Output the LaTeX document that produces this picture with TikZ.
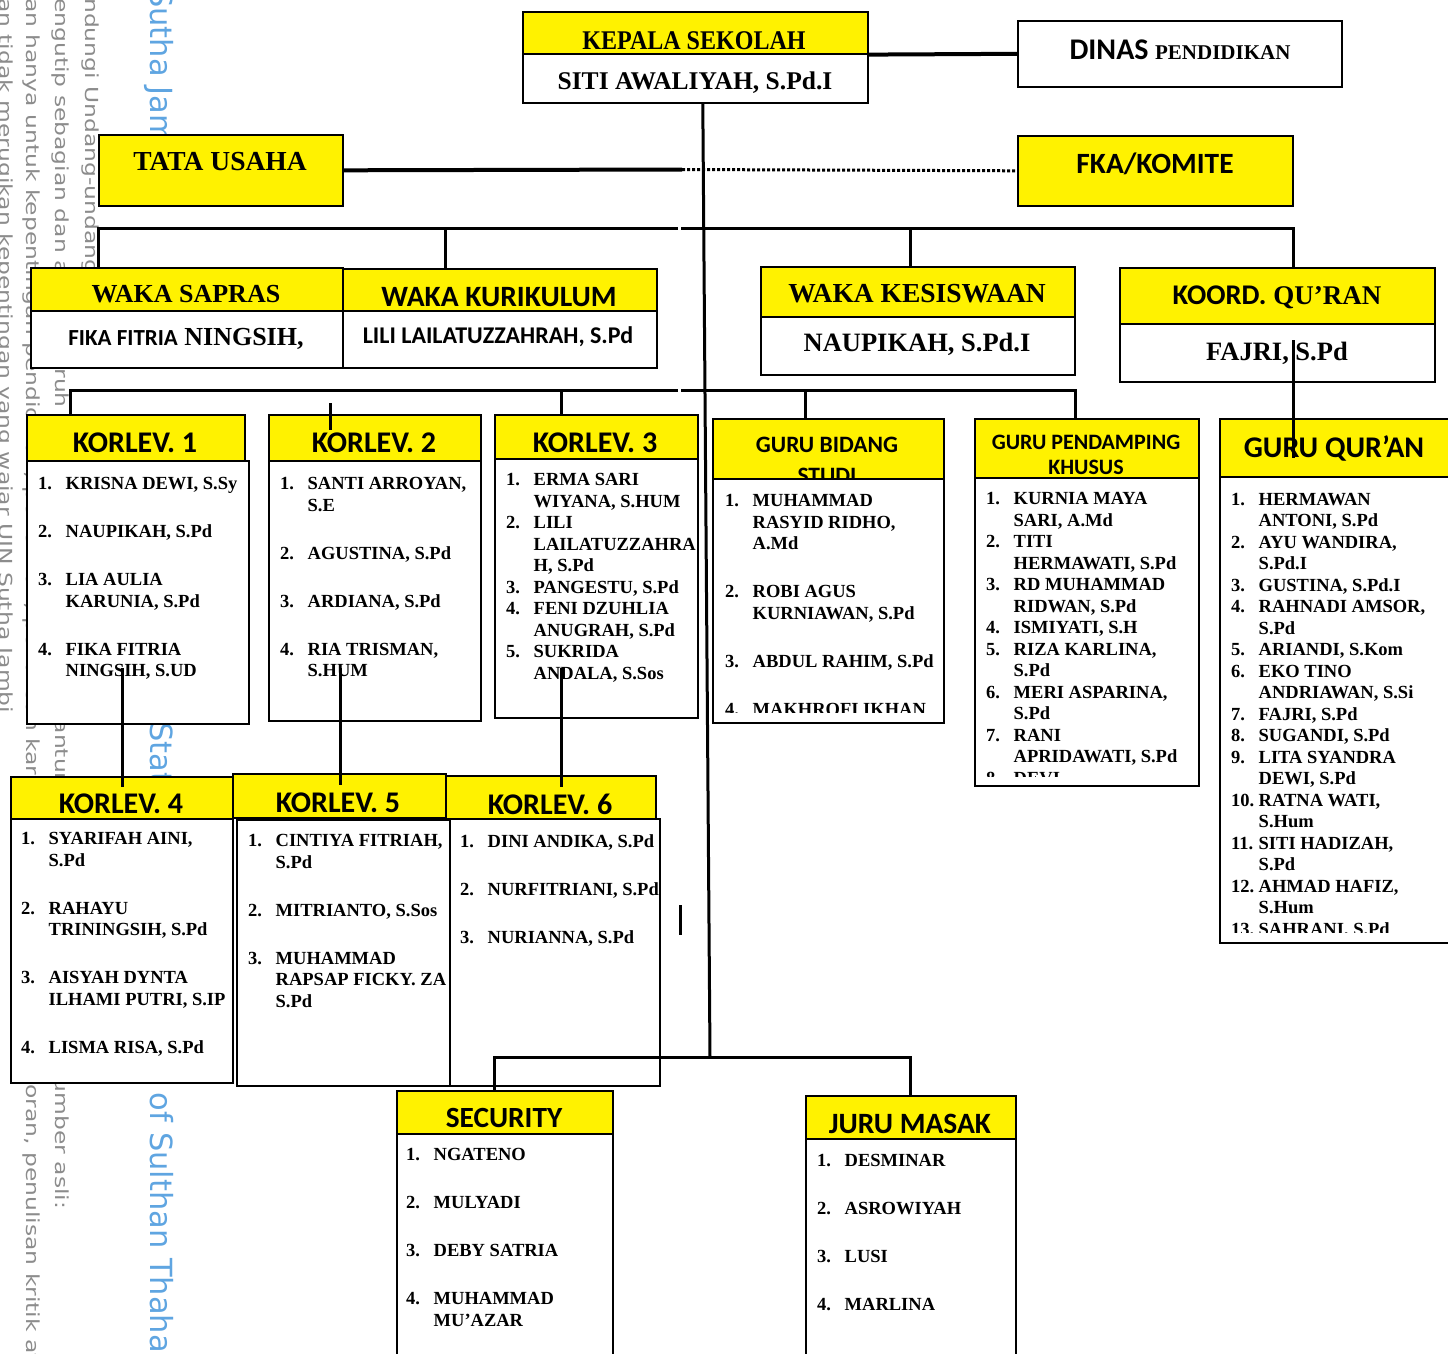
\documentclass[tikz,border=0pt]{standalone}
\usepackage{fontspec}
\setmainfont{Liberation Serif}
\newfontfamily\carl{Carlito}
\newfontfamily\narrowserif[FakeStretch=0.89]{Liberation Serif}
\newfontfamily\wmfont[FakeStretch=1.3]{DejaVu Sans}
\newfontfamily\wmbig{DejaVu Sans}
\definecolor{wmblue}{RGB}{95,165,225}
\newcommand{\fsz}[1]{\fontsize{#1}{#1}\selectfont}
\newcommand{\lnum}[1]{\makebox[27.5pt][l]{#1}}

\tikzset{
  hd/.style={draw, fill=yellow, line width=1.6pt, inner sep=0pt, anchor=north west},
  bd/.style={draw, fill=white, line width=1.6pt, inner sep=0pt, anchor=north west},
  ttl/.style={anchor=base, inner sep=0pt, font=\carl\bfseries\fsz{30}},
  srf/.style={anchor=base, inner sep=0pt, font=\bfseries\fsz{26}},
  lst/.style={anchor=north west, inner sep=0pt, align=left, font=\bfseries\fontsize{18.5}{21.5}\selectfont},
  link/.style={line width=3pt},
  wm/.style={rotate=-90, anchor=base west, inner sep=0pt, text=black!45, font=\wmfont\fsz{18}},
  wmb/.style={rotate=-90, anchor=base west, inner sep=0pt, text=wmblue, font=\wmbig\fsz{30.5}},
}

\begin{document}
\begin{tikzpicture}[x=1pt,y=-1pt]
\useasboundingbox (0,0) rectangle (1448,1353);
\clip (0,0) rectangle (1448,1353);

% watermark
\node[wm] (wa) at (85,-2) {ndungi Undang-undang};
\node[wm] (wb) at (55,-2) {engutip sebagian dan atau seluruh karya tulis ini tanpa mencantumkan dan menyebutkan sumber asli:};
\node[wm] (wc) at (27,-2) {an hanya untuk kepentingan pendidikan, penelitian, penulisan karya ilmiah, penyusunan laporan, penulisan kritik atau tinjauan};
\node[wm] (wd) at (-1,-2) {an tidak merugikan kepentingan yang wajar UIN Sutha Jambi};
\node[wmb] (we) at (150,-12) {Sutha Jambi};
\node[wmb] (wf) at (150,722) {State Islamic University of Sulthan Thaha};

% kepala sekolah, dinas
\node[hd, minimum width=345pt, minimum height=42pt] (kph) at (522,11) {};
\node[bd, minimum width=345pt, minimum height=49pt] (kpb) at (522,53) {};
\node[srf, font=\narrowserif\bfseries\fsz{27}] (kpt) at (694,49) {KEPALA SEKOLAH};
\node[srf, font=\bfseries\fsz{25.5}] (kpn) at (695,89) {SITI AWALIYAH, S.Pd.I};
\node[bd, minimum width=324pt, minimum height=66pt] (dn) at (1017,20) {};
\node[srf] (dnt) at (1180,59) {{\carl\fsz{30}DINAS} \fsz{21}PENDIDIKAN};

% tata usaha, komite
\node[hd, minimum width=244pt, minimum height=71pt] (tu) at (98,134) {};
\node[srf, font=\bfseries\fsz{27.5}] (tut) at (220,170) {TATA USAHA};
\node[hd, minimum width=275pt, minimum height=70pt] (fk) at (1017,135) {};
\node[ttl, font=\carl\bfseries\fsz{29.4}] (fkt) at (1155,173) {FKA/KOMITE};

% waka
\node[hd, minimum width=312pt, minimum height=43pt] (wsh) at (30,267) {};
\node[bd, minimum width=312pt, minimum height=57pt] (wsb) at (30,310) {};
\node[srf] (wst) at (186,302) {WAKA SAPRAS};
\node[srf] (wsn) at (186,345) {{\carl\fsz{23}FIKA FITRIA} NINGSIH,};
\node[hd, minimum width=314pt, minimum height=42pt] (wkh) at (342,268) {};
\node[bd, minimum width=314pt, minimum height=57pt] (wkb) at (342,310) {};
\node[ttl, font=\carl\bfseries\fsz{29.5}] (wkt) at (499,306) {WAKA KURIKULUM};
\node[ttl, font=\carl\bfseries\fsz{24}] (wkn) at (498,343) {LILI LAILATUZZAHRAH, S.Pd};
\node[hd, minimum width=314pt, minimum height=50pt] (weh) at (760,266) {};
\node[bd, minimum width=314pt, minimum height=58pt] (web) at (760,316) {};
\node[srf, font=\bfseries\fsz{27.5}] (wet) at (917,302) {WAKA KESISWAAN};
\node[srf, font=\bfseries\fsz{26.5}] (wen) at (917,351) {NAUPIKAH, S.Pd.I};
\node[hd, minimum width=315pt, minimum height=56pt] (kqh) at (1119,267) {};
\node[bd, minimum width=315pt, minimum height=58pt] (kqb) at (1119,323) {};
\node[srf, font=\bfseries\fsz{27}] (kqt) at (1277,304) {{\carl\fsz{28.5}KOORD.} QU’RAN};
\node[srf, font=\bfseries\fsz{26.5}] (kqn) at (1277,360) {FAJRI, S.Pd};

% korlev 1-3
\node[hd, minimum width=218pt, minimum height=46pt] (k1h) at (26,414) {};
\node[bd, minimum width=222pt, minimum height=263pt] (k1b) at (26,460) {};
\node[ttl] (k1t) at (135,452) {KORLEV. 1};
\node[lst] (k1l) at (38,477.5) {\lnum{1.}KRISNA DEWI, S.Sy\\[26.5pt]
  \lnum{2.}NAUPIKAH, S.Pd\\[26.5pt]
  \lnum{3.}LIA AULIA\\ \lnum{}KARUNIA, S.Pd\\[26.5pt]
  \lnum{4.}FIKA FITRIA\\ \lnum{}NINGSIH, S.UD};

\node[hd, minimum width=212pt, minimum height=46pt] (k2h) at (268,414) {};
\node[bd, minimum width=212pt, minimum height=260pt] (k2b) at (268,460) {};
\node[ttl] (k2t) at (374,452) {KORLEV. 2};
\node[lst] (k2l) at (280,477.5) {\lnum{1.}SANTI ARROYAN,\\ \lnum{}S.E\\[26.5pt]
  \lnum{2.}AGUSTINA, S.Pd\\[26.5pt]
  \lnum{3.}ARDIANA, S.Pd\\[26.5pt]
  \lnum{4.}RIA TRISMAN,\\ \lnum{}S.HUM};

\node[hd, minimum width=203pt, minimum height=44pt] (k3h) at (494,414) {};
\node[bd, minimum width=203pt, minimum height=259pt] (k3b) at (494,458) {};
\node[ttl] (k3t) at (595,452) {KORLEV. 3};
\node[lst] (k3l) at (506,473.5) {\lnum{1.}ERMA SARI\\ \lnum{}WIYANA, S.HUM\\
  \lnum{2.}LILI\\ \lnum{}LAILATUZZAHRA\\ \lnum{}H, S.Pd\\
  \lnum{3.}PANGESTU, S.Pd\\
  \lnum{4.}FENI DZUHLIA\\ \lnum{}ANUGRAH, S.Pd\\
  \lnum{5.}SUKRIDA\\ \lnum{}ANDALA, S.Sos};

% guru
\node[hd, minimum width=231pt, minimum height=60pt] (gbh) at (712,418) {};
\node[bd, minimum width=231pt, minimum height=244pt] (gbb) at (712,478) {};
\node[ttl, font=\carl\bfseries\fsz{23.5}] (gbt) at (827,452) {GURU BIDANG};
\begin{scope}
\clip (712,418) rectangle (943,477);
\node[ttl, font=\carl\bfseries\fsz{23.5}] (gbs) at (827,483) {STUDI};
\end{scope}
\begin{scope}
\clip (712,478) rectangle (943,712.5);
\node[lst] (gbl) at (725,494.5) {\lnum{1.}MUHAMMAD\\ \lnum{}RASYID RIDHO,\\ \lnum{}A.Md\\[26.5pt]
  \lnum{2.}ROBI AGUS\\ \lnum{}KURNIAWAN, S.Pd\\[26.5pt]
  \lnum{3.}ABDUL RAHIM, S.Pd\\[26.5pt]
  \lnum{4.}MAKHROFI IKHAN};
\end{scope}

\node[hd, minimum width=224pt, minimum height=59pt] (gph) at (974,418) {};
\node[bd, minimum width=224pt, minimum height=308pt] (gpb) at (974,477) {};
\node[ttl, font=\carl\bfseries\fsz{22}] (gpt) at (1086,449) {GURU PENDAMPING};
\node[ttl, font=\carl\bfseries\fsz{22}] (gps) at (1086,474) {KHUSUS};
\begin{scope}
\clip (974,477) rectangle (1198,776);
\node[lst] (gpl) at (986,492.5) {\lnum{1.}KURNIA MAYA\\ \lnum{}SARI, A.Md\\
  \lnum{2.}TITI\\ \lnum{}HERMAWATI, S.Pd\\
  \lnum{3.}RD MUHAMMAD\\ \lnum{}RIDWAN, S.Pd\\
  \lnum{4.}ISMIYATI, S.H\\
  \lnum{5.}RIZA KARLINA,\\ \lnum{}S.Pd\\
  \lnum{6.}MERI ASPARINA,\\ \lnum{}S.Pd\\
  \lnum{7.}RANI\\ \lnum{}APRIDAWATI, S.Pd\\
  \lnum{8.}DEVI};
\end{scope}

\node[hd, minimum width=240pt, minimum height=58pt] (gqh) at (1219,418) {};
\node[bd, minimum width=240pt, minimum height=466pt] (gqb) at (1219,476) {};
\node[ttl] (gqt) at (1334,457) {GURU QUR’AN};
\begin{scope}
\clip (1219,476) rectangle (1448,932.5);
\node[lst] (gql) at (1231,493) {\lnum{1.}HERMAWAN\\ \lnum{}ANTONI, S.Pd\\
  \lnum{2.}AYU WANDIRA,\\ \lnum{}S.Pd.I\\
  \lnum{3.}GUSTINA, S.Pd.I\\
  \lnum{4.}RAHNADI AMSOR,\\ \lnum{}S.Pd\\
  \lnum{5.}ARIANDI, S.Kom\\
  \lnum{6.}EKO TINO\\ \lnum{}ANDRIAWAN, S.Si\\
  \lnum{7.}FAJRI, S.Pd\\
  \lnum{8.}SUGANDI, S.Pd\\
  \lnum{9.}LITA SYANDRA\\ \lnum{}DEWI, S.Pd\\
  \lnum{10.}RATNA WATI,\\ \lnum{}S.Hum\\
  \lnum{11.}SITI HADIZAH,\\ \lnum{}S.Pd\\
  \lnum{12.}AHMAD HAFIZ,\\ \lnum{}S.Hum\\
  \lnum{13.}SAHRANI, S.Pd};
\end{scope}

% korlev 4-6
\node[hd, minimum width=222pt, minimum height=42pt] (k4h) at (10,776) {};
\node[bd, minimum width=222pt, minimum height=264pt] (k4b) at (10,818) {};
\node[ttl] (k4t) at (121,813) {KORLEV. 4};
\node[lst] (k4l) at (21,832.5) {\lnum{1.}SYARIFAH AINI,\\ \lnum{}S.Pd\\[26.5pt]
  \lnum{2.}RAHAYU\\ \lnum{}TRININGSIH, S.Pd\\[26.5pt]
  \lnum{3.}AISYAH DYNTA\\ \lnum{}ILHAMI PUTRI, S.IP\\[26.5pt]
  \lnum{4.}LISMA RISA, S.Pd};

\node[hd, minimum width=213pt, minimum height=44pt] (k5h) at (232,773) {};
\node[bd, minimum width=213pt, minimum height=266pt] (k5b) at (236,819) {};
\node[ttl] (k5t) at (338,812) {KORLEV. 5};
\node[lst] (k5l) at (248,834.5) {\lnum{1.}CINTIYA FITRIAH,\\ \lnum{}S.Pd\\[26.5pt]
  \lnum{2.}MITRIANTO, S.Sos\\[26.5pt]
  \lnum{3.}MUHAMMAD\\ \lnum{}RAPSAP FICKY. ZA\\ \lnum{}S.Pd};

\node[hd, minimum width=210pt, minimum height=43pt] (k6h) at (445,775) {};
\node[bd, minimum width=210pt, minimum height=267pt] (k6b) at (449,818) {};
\node[ttl] (k6t) at (550,814) {KORLEV. 6};
\node[lst] (k6l) at (460,834.5) {\lnum{1.}DINI ANDIKA, S.Pd\\[26.5pt]
  \lnum{2.}NURFITRIANI, S.Pd\\[26.5pt]
  \lnum{3.}NURIANNA, S.Pd};

% security, juru masak
\node[hd, minimum width=216pt, minimum height=43pt] (sch) at (396,1090) {};
\node[bd, minimum width=216pt, minimum height=240pt] (scb) at (396,1133) {};
\node[ttl, font=\carl\bfseries\fsz{29.3}] (sct) at (504,1127) {SECURITY};
\node[lst] (scl) at (406,1148.5) {\lnum{1.}NGATENO\\[26.5pt]
  \lnum{2.}MULYADI\\[26.5pt]
  \lnum{3.}DEBY SATRIA\\[26.5pt]
  \lnum{4.}MUHAMMAD\\ \lnum{}MU’AZAR};

\node[hd, minimum width=210pt, minimum height=43pt] (jmh) at (805,1095) {};
\node[bd, minimum width=210pt, minimum height=235pt] (jmb) at (805,1138) {};
\node[ttl, font=\carl\bfseries\fsz{29.5}] (jmt) at (910,1133) {JURU MASAK};
\node[lst] (jml) at (817,1154.5) {\lnum{1.}DESMINAR\\[26.5pt]
  \lnum{2.}ASROWIYAH\\[26.5pt]
  \lnum{3.}LUSI\\[26.5pt]
  \lnum{4.}MARLINA};

% connectors
\coordinate (tm) at (682,169.5);
\coordinate (m1) at (710,1057);
\coordinate (u1) at (98,228);  \coordinate (u2) at (445,228);
\coordinate (u3) at (910,228); \coordinate (u4) at (1293,228);
\coordinate (ug1) at (678,228); \coordinate (ug2) at (681,228);
\coordinate (v1) at (70,390);  \coordinate (v2) at (561,390);
\coordinate (v3) at (805,390); \coordinate (v4) at (1075,390);
\coordinate (vg1) at (678,390); \coordinate (vg2) at (681,390);
\coordinate (k2a) at (330,403); \coordinate (k2b) at (330,430);
\coordinate (q1) at (1293,340); \coordinate (q2) at (1293,458);
\coordinate (c1a) at (122,668); \coordinate (c1b) at (122,787);
\coordinate (c2a) at (340,668); \coordinate (c2b) at (340,785);
\coordinate (c3a) at (561,668); \coordinate (c3b) at (561,787);
\coordinate (w1) at (494,1057); \coordinate (w2) at (910,1057);
\coordinate (sb1) at (680,905); \coordinate (sb2) at (680,935);

\draw[line width=4pt] (kph.south east) -- (dn.west);
\draw[line width=4pt] (tu.east) -- (tm);
\draw[line width=3pt, dash pattern=on 3pt off 2pt] (tm) -- (fk.west);
\draw[link] ([xshift=7.5pt]kpb.south) -- (m1);
\draw[link] (u1 |- wsh.north) -- (u1) -- (ug1);
\draw[link] (ug2) -- (u4) -- (u4 |- kqh.north);
\draw[link] (u2) -- (u2 |- wkh.north);
\draw[link] (u3) -- (u3 |- weh.north);
\draw[link] (v1 |- k1h.north) -- (v1) -- (vg1);
\draw[link] (vg2) -- (v4) -- (v4 |- gph.north);
\draw[link] (v2) -- (v2 |- k3h.north);
\draw[link] (v3) -- (v3 |- gbh.north);
\draw[link] (k2a) -- (k2b);
\draw[link] (q1) -- (q2);
\draw[link] (c1a) -- (c1b);
\draw[link] (c2a) -- (c2b);
\draw[link] (c3a) -- (c3b);
\draw[link] (w1 |- sch.north) -- (w1) -- (w2) -- (w2 |- jmh.north);
\draw[link] (sb1) -- (sb2);
\end{tikzpicture}
\end{document}
